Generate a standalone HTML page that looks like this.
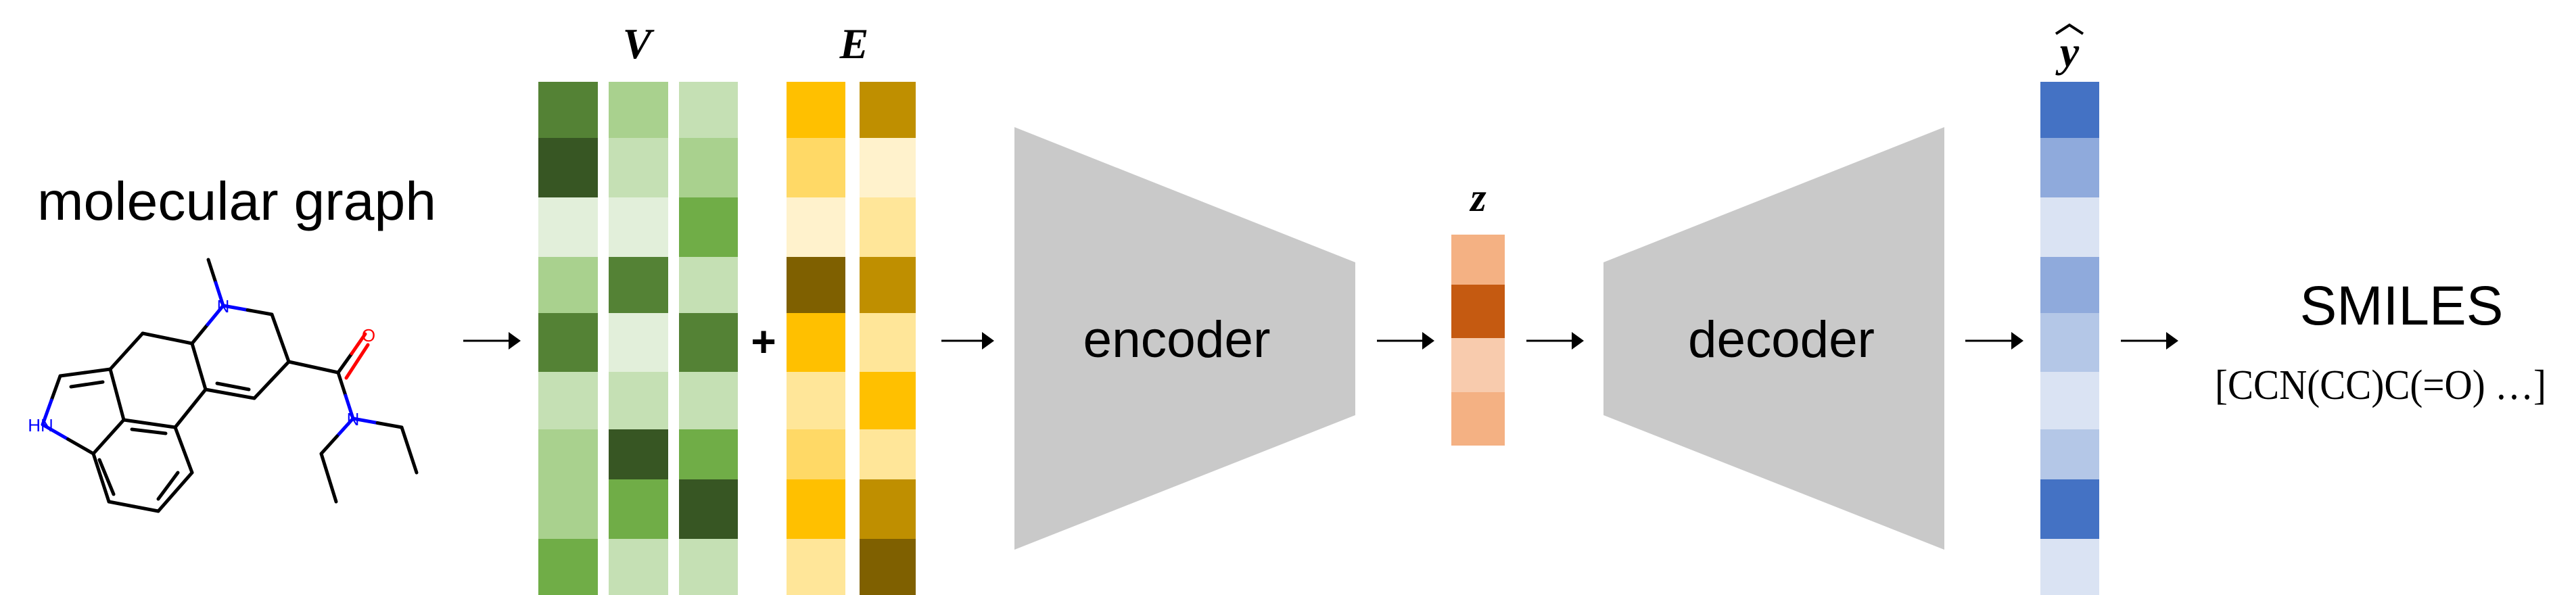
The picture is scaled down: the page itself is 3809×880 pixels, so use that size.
<!DOCTYPE html>
<html><head><meta charset="utf-8"><style>
html,body{margin:0;padding:0;background:#fff;}
svg{display:block;}
</style></head><body>
<svg id="fig" width="3809" height="880" viewBox="0 0 3809 880" xmlns="http://www.w3.org/2000/svg">
<text x="55" y="325" font-family="Liberation Sans, sans-serif" font-size="80" textLength="590" lengthAdjust="spacingAndGlyphs">molecular graph</text>
<g id="mol" stroke-width="5" stroke-linecap="round" fill="none"></g>
<g id="grid"></g>
<text x="942" y="86" text-anchor="middle" font-family="Liberation Serif, serif" font-style="italic" font-weight="bold" font-size="64">V</text>
<text x="1263" y="86" text-anchor="middle" font-family="Liberation Serif, serif" font-style="italic" font-weight="bold" font-size="64">E</text>
<text x="1129" y="527" text-anchor="middle" font-family="Liberation Sans, sans-serif" font-weight="bold" font-size="64">+</text>
<polygon points="1500,188 2004,388 2004,614 1500,813" fill="#c9c9c9"/>
<text x="1740" y="528" text-anchor="middle" font-family="Liberation Sans, sans-serif" font-size="76" textLength="277" lengthAdjust="spacingAndGlyphs">encoder</text>
<polygon points="2371,388 2875,188 2875,813 2371,614" fill="#c9c9c9"/>
<text x="2634" y="528" text-anchor="middle" font-family="Liberation Sans, sans-serif" font-size="76" textLength="276" lengthAdjust="spacingAndGlyphs">decoder</text>
<text x="2186" y="312" text-anchor="middle" font-family="Liberation Serif, serif" font-style="italic" font-weight="bold" font-size="60">z</text>
<text x="3060" y="98" text-anchor="middle" font-family="Liberation Serif, serif" font-style="italic" font-weight="bold" font-size="64">y</text>
<path d="M3040,50 L3060,37 L3080,50" stroke="#000" stroke-width="4" fill="none"/>
<text x="3551" y="480" text-anchor="middle" font-family="Liberation Sans, sans-serif" font-size="82">SMILES</text>
<text x="3275" y="590" font-family="Liberation Serif, serif" font-size="62" textLength="490" lengthAdjust="spacingAndGlyphs">[CCN(CC)C(=O) …]</text>
<g id="arrows"></g>
</svg>
<script>
const NS="http://www.w3.org/2000/svg";
const rowEdges=[121,204,292,380,463,550,635,709,797,880];
const vCol1=["#548235","#375623","#E2EFDA","#A9D18E","#548235","#C5E0B4","#A9D18E","#A9D18E","#70AD47"];
const vCol2=["#A9D18E","#C5E0B4","#E2EFDA","#548235","#E2EFDA","#C5E0B4","#375623","#70AD47","#C5E0B4"];
const vCol3=["#C5E0B4","#A9D18E","#70AD47","#C5E0B4","#548235","#C5E0B4","#70AD47","#375623","#C5E0B4"];
const eCol1=["#FFC000","#FFD966","#FFF2CC","#7F6000","#FFC000","#FFE699","#FFD966","#FFC000","#FFE699"];
const eCol2=["#BF8F00","#FFF2CC","#FFE699","#BF8F00","#FFE699","#FFC000","#FFE699","#BF8F00","#7F6000"];
const yHat=["#4472C4","#8FAADC","#DAE3F3","#8FAADC","#B4C7E7","#DAE3F3","#B4C7E7","#4472C4","#DAE3F3"];
const zEdges=[347,421,500,580,659];
const zVec=["#F4B183","#C55A11","#F8CBAD","#F4B183"];
const grid=document.getElementById('grid');
function column(colors,edges,x0,x1,name){
  colors.forEach((c,i)=>{
    const r=document.createElementNS(NS,'rect');
    r.setAttribute('x',x0);r.setAttribute('y',edges[i]);
    r.setAttribute('width',x1-x0);r.setAttribute('height',edges[i+1]-edges[i]);
    r.setAttribute('fill',c);
    
    
    grid.appendChild(r);
  });
}
column(vCol1,rowEdges,796,884,'v-col1');
column(vCol2,rowEdges,900,988,'v-col2');
column(vCol3,rowEdges,1004,1091,'v-col3');
column(eCol1,rowEdges,1163,1250,'e-col1');
column(eCol2,rowEdges,1271,1354,'e-col2');
column(zVec,zEdges,2146,2225,'z');
column(yHat,rowEdges,3017,3104,'y-hat');
const arrowSpans=[[685,770],[1392,1470],[2036,2121],[2257,2342],[2906,2992],[3136,3221]];
const ag=document.getElementById('arrows');
arrowSpans.forEach((s,i)=>{
  const l=document.createElementNS(NS,'line');
  l.setAttribute('x1',s[0]);l.setAttribute('x2',s[1]-14);l.setAttribute('y1',504);l.setAttribute('y2',504);
  l.setAttribute('stroke','#000');l.setAttribute('stroke-width',3);
  
  
  ag.appendChild(l);
  const p=document.createElementNS(NS,'polygon');
  p.setAttribute('points',`${s[1]-18},491 ${s[1]},504 ${s[1]-18},517`);
  p.setAttribute('fill','#000');
  
  
  ag.appendChild(p);
});
const bonds=[
 [308,384,330,452,'#000','#00f'],[330,452,402,465,'#00f','#000'],[402,465,427,535],[427,535,376,589],[376,589,304,576],
 [304,576,284,508],[284,508,330,452,'#000','#00f'],[284,508,211,493],[211,493,163,546],[163,546,183,621],
 [163,546,89,556],[89,556,63,628,'#000','#00f'],[63,628,138,671,'#00f','#000'],[138,671,183,621],
 [183,621,259,632],[304,576,259,632],[259,632,284,699],[284,699,234,756],[234,756,161,742],[161,742,138,671],
 [427,535,500,551],[500,551,522,619,'#000','#00f'],[522,619,594,632,'#00f','#000'],[594,632,616,699],
 [522,619,475,671,'#00f','#000'],[475,671,497,742],
 [500,551,520,523,'#000','#000'],[520,523,540,494,'#f00','#f00']
];
const dbl=[[321,567,368,576],[105,572,152,565],[195,635,245,641],[263,699,234,738],[147,680,168,731],[512,559,544,510]];
const mol=document.getElementById('mol');
function seg(x1,y1,x2,y2,c){const l=document.createElementNS(NS,'line');
 l.setAttribute('x1',x1);l.setAttribute('y1',y1);l.setAttribute('x2',x2);l.setAttribute('y2',y2);l.setAttribute('stroke',c);
 
 
 mol.appendChild(l);}
bonds.forEach(b=>{const c1=b[4]||'#000',c2=b[5]||'#000';const mx=(b[0]+b[2])/2,my=(b[1]+b[3])/2;seg(b[0],b[1],mx,my,c1);seg(mx,my,b[2],b[3],c2);});
dbl.forEach((d,i)=>seg(d[0],d[1],d[2],d[3],i==5?'#f00':'#000'));
function lab(t,x,y,c){const e=document.createElementNS(NS,'text');e.textContent=t;e.setAttribute('x',x);e.setAttribute('y',y);
 e.setAttribute('fill',c);e.setAttribute('font-size','26');e.setAttribute('font-family','Liberation Sans, sans-serif');e.setAttribute('text-anchor','middle');
 e.setAttribute('stroke','none');
 
 
 mol.appendChild(e);}
lab('N',330,462,'#00f');lab('O',545,505,'#f00');lab('HN',60,638,'#00f');lab('N',522,629,'#00f');
</script>
</body></html>
